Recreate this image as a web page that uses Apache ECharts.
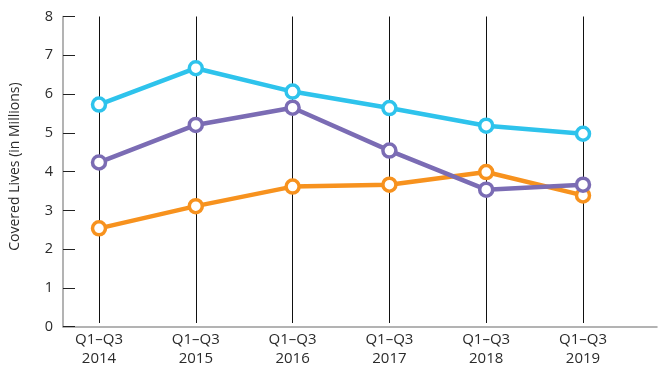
<!DOCTYPE html>
<html>
<head>
<meta charset="utf-8">
<script src="https://cdn.jsdelivr.net/npm/echarts@6/dist/echarts.min.js"></script>
<style>
  html, body { margin: 0; padding: 0; background: #fff; }
  #chart { width: 658px; height: 368px; }
</style>
</head>
<body>
<div id="chart"></div>
<script>
(function () {
    'use strict';

    var CATEGORIES = ['Q1\u2013Q3\n2014', 'Q1\u2013Q3\n2015', 'Q1\u2013Q3\n2016',
                      'Q1\u2013Q3\n2017', 'Q1\u2013Q3\n2018', 'Q1\u2013Q3\n2019'];
    var CYAN_VALUES = [5.70, 6.65, 6.04, 5.61, 5.15, 4.94];
    var PURPLE_VALUES = [4.19, 5.17, 5.62, 4.50, 3.48, 3.61];
    var ORANGE_VALUES = [2.47, 3.05, 3.56, 3.61, 3.94, 3.33];

    var FONT = '"Open Sans", "Noto Sans", sans-serif';

    function lineSeries(values, color) {
        return {
            type: 'line',
            xAxisIndex: 1,
            yAxisIndex: 1,
            data: values,
            symbol: 'circle',
            symbolSize: 13,
            lineStyle: { color: color, width: 4.5 },
            itemStyle: { color: '#fff', borderColor: color, borderWidth: 3.5 },
            animation: false
        };
    }

    var chart = echarts.init(document.getElementById('chart'));
    chart.setOption({
        animation: false,
        grid: [
            // frame: axis lines, y ticks and labels
            { left: 59, right: 1, top: 16.5, bottom: 41.3 },
            // plot: categories from first to last vertical line
            { left: 99, right: 75, top: 16.5, bottom: 41.3 }
        ],
        xAxis: [{
            gridIndex: 0,
            type: 'value',
            min: 0,
            max: 1,
            axisLine: { show: true, lineStyle: { color: '#9a9a9a', width: 1.5 } },
            axisTick: { show: false },
            axisLabel: { show: false },
            splitLine: { show: false }
        }, {
            gridIndex: 1,
            type: 'category',
            boundaryGap: false,
            data: CATEGORIES,
            axisLine: { show: false },
            axisTick: { show: false },
            axisLabel: {
                margin: 7,
                color: '#2b2b2b',
                fontFamily: FONT,
                fontSize: 15,
                lineHeight: 19
            },
            splitLine: { show: true, lineStyle: { color: '#111', width: 1 } }
        }],
        yAxis: [{
            gridIndex: 0,
            type: 'value',
            min: 0,
            max: 8,
            interval: 1,
            name: 'Covered Lives (in Millions)',
            nameLocation: 'middle',
            nameGap: 41,
            nameTextStyle: { color: '#2b2b2b', fontFamily: FONT, fontSize: 14, padding: [0, 0, 0, 10] },
            axisLine: { show: true, lineStyle: { color: '#9a9a9a', width: 1.5 } },
            axisTick: { show: true, inside: true, length: 12, lineStyle: { color: '#222', width: 1 } },
            axisLabel: { margin: 10, color: '#2b2b2b', fontFamily: FONT, fontSize: 14.5 },
            splitLine: { show: false }
        }, {
            gridIndex: 1,
            type: 'value',
            min: 0,
            max: 8,
            show: false
        }],
        series: [
            lineSeries(ORANGE_VALUES, '#f7921e'),
            lineSeries(PURPLE_VALUES, '#7b6cb4'),
            lineSeries(CYAN_VALUES, '#2ec3ec')
        ]
    });
})();
</script>
</body>
</html>
